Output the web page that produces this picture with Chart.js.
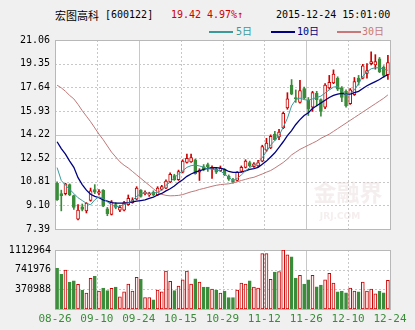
<!DOCTYPE html>
<html>
<head>
<meta charset="utf-8">
<script src="https://cdn.jsdelivr.net/npm/chart.js@4.4.0/dist/chart.umd.min.js"></script>
<style>
body { margin:0; background:#f0f0f0; width:415px; height:330px; overflow:hidden; position:relative;
       font-family:"DejaVu Sans Mono","Noto Sans CJK SC",monospace; }
canvas { position:absolute; left:0; }
#kline { top:0; }
#vol { top:240px; }
.hd { position:absolute; font-size:10px; line-height:12px; white-space:nowrap; }
.cn { font-family:"Noto Sans CJK SC",sans-serif; font-size:11px; }
.red { color:#cc0000; }
.key { position:absolute; height:2px; width:24px; top:31px; }
</style>
</head>
<body>
<div class="hd cn" style="left:55px;top:9px;">宏图高科</div>
<div class="hd" style="left:105px;top:9px;">[600122]</div>
<div class="hd red" style="left:171px;top:9px;">19.42</div>
<div class="hd red" style="left:207px;top:9px;">4.97%↑</div>
<div class="hd" style="left:276px;top:9px;">2015-12-24 15:01:00</div>

<div class="key" style="left:209px;background:#3a9a9a;"></div>
<div class="hd" style="left:236px;top:26px;color:#3a9a9a;">5日</div>
<div class="key" style="left:271px;background:#000080;"></div>
<div class="hd" style="left:297px;top:26px;color:#000080;">10日</div>
<div class="key" style="left:337px;background:#c87878;"></div>
<div class="hd" style="left:362px;top:26px;color:#c87878;">30日</div>

<canvas id="kline" width="415" height="240"></canvas>
<canvas id="vol" width="415" height="90"></canvas>

<script>
'use strict';

// axis labels
let dateTicks = ['08-26','09-10','09-24','10-15','10-29','11-12','11-26','12-10','12-24'];
let priceTicks = [7.39, 9.10, 10.81, 12.52, 14.22, 15.93, 17.64, 19.35, 21.06];
let volTicks = [0, 370988, 741976, 1112964];

// daily prices
let openArr = [10.70,9.95,9.95,10.60,9.80,8.10,9.00,8.70,9.45,10.25,
  10.00,10.20,8.85,8.45,9.15,8.75,8.75,9.15,9.30,9.55,
  10.20,9.95,9.85,10.05,9.85,10.25,10.35,10.80,11.25,10.95,
  11.50,12.20,12.25,12.40,11.50,11.90,12.05,11.75,11.70,11.60,
  11.70,11.20,10.95,10.90,11.55,11.85,12.20,11.90,11.95,12.30,
  13.10,13.25,14.25,14.05,14.70,16.15,17.80,16.90,16.55,17.55,
  16.70,16.20,17.20,16.75,16.20,17.60,17.95,18.30,17.60,17.35,
  16.45,17.10,18.30,18.30,18.65,19.35,19.25,19.70,19.10,18.55];
let closeArr = [9.50,9.80,10.65,9.85,8.95,8.75,8.80,9.25,10.15,10.05,
  10.10,9.05,8.50,9.35,8.95,8.95,9.30,9.60,9.50,10.35,
  9.75,10.05,9.95,9.85,10.35,10.45,10.85,11.35,10.95,11.55,
  12.30,12.50,12.55,11.40,11.65,11.75,11.90,11.85,11.50,11.80,
  11.30,11.00,10.80,11.50,11.85,12.30,11.95,12.10,12.20,13.35,
  13.60,14.10,13.85,14.40,15.75,16.80,17.15,16.80,17.40,16.85,
  16.05,17.25,16.75,15.90,17.80,18.00,18.60,17.50,16.90,16.30,
  17.45,18.05,18.05,19.20,18.85,19.50,19.50,18.75,18.50,19.42];
let highArr = [10.80,10.20,10.70,10.65,9.85,9.15,9.20,9.30,10.35,10.60,
  10.25,10.25,8.95,9.45,9.30,9.10,9.40,9.85,9.65,10.45,
  10.25,10.15,10.05,10.15,10.45,10.55,10.95,11.45,11.35,11.65,
  12.40,12.80,12.80,12.45,11.75,12.05,12.15,11.95,11.80,11.95,
  11.75,11.30,11.05,11.55,11.95,12.40,12.30,12.20,12.35,13.45,
  13.95,14.20,14.45,14.60,15.85,17.25,18.20,17.45,18.15,17.65,
  16.90,17.35,17.35,16.80,17.90,18.50,18.90,18.40,17.70,17.45,
  17.55,18.35,18.50,19.30,19.35,20.20,20.00,19.80,19.20,19.95];
let lowArr = [9.45,8.70,9.85,9.80,8.80,8.05,8.70,8.55,9.40,9.95,
  9.85,9.00,8.35,8.40,8.85,8.65,8.70,9.10,9.25,9.50,
  9.70,9.85,9.75,9.80,9.80,10.20,10.30,10.75,10.90,10.90,
  11.45,12.15,12.20,11.35,10.90,11.60,11.55,11.05,11.40,11.55,
  11.25,10.90,10.70,10.85,11.50,11.80,11.90,11.85,11.90,12.25,
  13.00,13.20,13.80,13.85,14.65,16.05,17.10,16.55,16.50,16.80,
  15.60,15.90,16.30,15.55,16.10,17.50,17.90,17.40,16.60,16.20,
  16.40,17.05,17.80,18.25,18.30,19.25,18.95,18.70,18.35,18.20];

// daily volume
let volArr = [769000,653000,732000,506000,530000,464000,359000,298000,579000,616000,
  340000,396000,346000,390000,414000,230000,322000,469000,340000,598000,
  561000,217000,217000,175000,359000,322000,714000,524000,346000,432000,
  548000,714000,469000,567000,506000,414000,414000,377000,359000,298000,
  340000,217000,217000,359000,487000,469000,530000,414000,396000,1045000,
  1045000,561000,695000,708000,1112964,1021000,984000,585000,635000,469000,
  548000,635000,419000,451000,548000,671000,487000,322000,340000,304000,
  396000,340000,322000,506000,340000,377000,285000,340000,304000,543000];

// moving averages
let ma5Arr = [11.83,10.90,10.55,10.25,9.96,9.65,9.45,9.25,9.14,9.50,
  9.72,9.60,9.35,9.14,9.00,9.05,9.15,9.28,9.45,9.75,
  9.96,9.98,9.98,9.98,10.05,10.20,10.55,10.78,11.10,11.37,
  11.60,11.85,11.97,12.02,11.95,11.85,11.75,11.72,11.65,11.60,
  11.35,11.13,10.90,11.05,11.30,11.60,11.83,12.00,12.20,12.55,
  13.00,13.45,13.80,14.15,14.75,15.40,16.30,16.75,16.86,16.75,
  16.70,16.80,16.90,17.00,17.23,17.45,17.65,17.70,17.35,17.12,
  17.20,17.45,17.90,18.45,18.75,18.98,19.05,19.05,18.95,18.87];
let ma10Arr = [13.70,13.20,12.80,12.30,11.85,11.10,10.60,10.20,9.90,9.75,
  9.65,9.50,9.40,9.30,9.26,9.26,9.26,9.30,9.35,9.40,
  9.45,9.50,9.60,9.70,9.85,9.96,10.15,10.30,10.50,10.75,
  10.95,11.20,11.37,11.50,11.60,11.70,11.78,11.82,11.83,11.80,
  11.70,11.55,11.48,11.48,11.50,11.60,11.70,11.75,11.85,12.07,
  12.30,12.60,12.90,13.30,13.70,14.15,14.50,14.95,15.30,15.60,
  15.80,16.10,16.30,16.50,16.70,16.90,17.05,17.15,17.20,17.15,
  17.15,17.25,17.35,17.55,17.75,17.90,18.05,18.20,18.40,18.55];
let ma30Arr = [17.79,17.60,17.35,17.05,16.80,16.40,15.95,15.55,15.15,14.70,
  14.25,13.85,13.40,12.95,12.60,12.25,12.00,11.80,11.55,11.30,
  11.05,10.80,10.55,10.30,10.05,9.90,9.82,9.79,9.80,9.82,
  9.88,9.98,10.08,10.15,10.25,10.32,10.40,10.48,10.55,10.60,
  10.63,10.66,10.72,10.80,10.90,10.98,11.07,11.13,11.25,11.37,
  11.50,11.62,11.80,12.00,12.20,12.45,12.75,12.95,13.15,13.30,
  13.45,13.60,13.75,13.95,14.10,14.25,14.45,14.65,14.85,15.05,
  15.25,15.45,15.65,15.85,16.05,16.25,16.45,16.65,16.85,17.09];

let upColor = '#cc0000';
let downColor = '#3a8c3a';

let wickData = [], bodyData = [], volData = [];
let ma5Data = [], ma10Data = [], ma30Data = [];
let candleColor = [], bodyFill = [], volFill = [];

for (let i = 0; i < openArr.length; i++) {
  let x = i + 0.5;
  let up = closeArr[i] >= openArr[i];
  wickData.push({x: x, y: [lowArr[i], highArr[i]]});
  bodyData.push({x: x, y: [openArr[i], closeArr[i]]});
  volData.push({x: x, y: volArr[i]});
  ma5Data.push({x: x, y: ma5Arr[i]});
  ma10Data.push({x: x, y: ma10Arr[i]});
  ma30Data.push({x: x, y: ma30Arr[i]});
  candleColor.push(up ? upColor : downColor);
  bodyFill.push(up ? '#ffffff' : downColor);
  volFill.push(up ? '#fff4f4' : downColor);
}

// white panel, dashed grid, solid middle lines and frame
let panelGrid = {
  id: 'panelGrid',
  beforeDatasetsDraw(chart, args, opts) {
    let ctx = chart.ctx;
    let a = chart.chartArea;
    let xs = chart.scales.x, ys = chart.scales.y;
    ctx.save();
    ctx.fillStyle = '#ffffff';
    ctx.fillRect(a.left, a.top, a.right - a.left, a.bottom - a.top);
    ctx.lineWidth = 1;
    ctx.strokeStyle = '#c8c8c8';
    ys.ticks.forEach(t => {
      let y = Math.round(ys.getPixelForValue(t.value)) + 0.5;
      if (y < a.top + 2 || y > a.bottom - 2) return;
      ctx.setLineDash(opts.solidY.includes(t.value) ? [] : [2, 2]);
      ctx.beginPath(); ctx.moveTo(a.left, y); ctx.lineTo(a.right, y); ctx.stroke();
    });
    xs.ticks.forEach(t => {
      let x = Math.round(xs.getPixelForValue(t.value)) + 0.5;
      if (x < a.left + 2 || x > a.right - 2) return;
      ctx.setLineDash(opts.solidX.includes(t.value) ? [] : [2, 2]);
      ctx.beginPath(); ctx.moveTo(x, a.top); ctx.lineTo(x, a.bottom); ctx.stroke();
    });
    ctx.setLineDash([]);
    ctx.strokeStyle = '#b8b8b8';
    ctx.strokeRect(Math.round(a.left) + 0.5, Math.round(a.top) + 0.5,
      Math.round(a.right - a.left), Math.round(a.bottom - a.top));
    if (opts.mark) {
      // faint site logo in the lower right corner
      ctx.textAlign = 'center';
      ctx.fillStyle = 'rgba(225,205,205,0.35)';
      ctx.font = 'bold 23px "Noto Sans CJK SC"';
      ctx.fillText('金融界', a.right - 42, a.bottom - 28);
      ctx.font = 'bold 9px "DejaVu Sans"';
      ctx.fillText('JRJ.COM', a.right - 50, a.bottom - 10);
    }
    ctx.restore();
  }
};

let xTicks = dateTicks.map((d, i) => ({value: i * 10}));

let kline = new Chart(document.getElementById('kline'), {
  type: 'bar',
  data: {
    datasets: [{
      type: 'line', data: ma5Data, borderColor: '#3a9a9a', borderWidth: 1,
      pointRadius: 0, order: 0
    }, {
      type: 'line', data: ma10Data, borderColor: '#000080', borderWidth: 1.3,
      pointRadius: 0, order: 0
    }, {
      type: 'line', data: ma30Data, borderColor: '#c07878', borderWidth: 1,
      pointRadius: 0, order: 0
    }, {
      data: bodyData, backgroundColor: bodyFill, borderColor: candleColor, borderWidth: 1,
      borderSkipped: false, barThickness: 3, minBarLength: 1, grouped: false, order: 1
    }, {
      data: wickData, backgroundColor: candleColor, borderWidth: 0,
      barThickness: 1, grouped: false, order: 2
    }]
  },
  options: {
    responsive: false,
    devicePixelRatio: 1,
    animation: false,
    layout: {padding: {top: 40, right: 25, bottom: 5, left: 0}},
    plugins: {
      legend: {display: false},
      tooltip: {enabled: false},
      panelGrid: {solidX: [20, 60], solidY: [14.22], mark: true}
    },
    scales: {
      x: {
        type: 'linear', min: 0, max: 80, offset: false,
        afterBuildTicks: s => { s.ticks = xTicks.slice(); },
        afterFit: s => { s.height = 0; },
        ticks: {display: false},
        grid: {display: false, drawTicks: false},
        border: {display: false}
      },
      y: {
        min: 7.39, max: 21.06,
        afterBuildTicks: s => { s.ticks = priceTicks.map(v => ({value: v})); },
        afterFit: s => { s.width = 55; },
        ticks: {
          color: '#000', padding: 5,
          font: {family: 'DejaVu Sans Mono', size: 10},
          callback: v => v.toFixed(2)
        },
        grid: {display: false, drawTicks: false},
        border: {display: false}
      }
    }
  },
  plugins: [panelGrid]
});

let vol = new Chart(document.getElementById('vol'), {
  type: 'bar',
  data: {
    datasets: [{
      data: volData, backgroundColor: volFill, borderColor: candleColor, borderWidth: 1,
      borderSkipped: false, barThickness: 3, grouped: false
    }]
  },
  options: {
    responsive: false,
    devicePixelRatio: 1,
    animation: false,
    layout: {padding: {top: 8, right: 25, bottom: 0, left: 0}},
    plugins: {
      legend: {display: false},
      tooltip: {enabled: false},
      panelGrid: {solidX: [20, 60], solidY: []}
    },
    scales: {
      x: {
        type: 'linear', min: 0, max: 80, offset: false,
        afterBuildTicks: s => { s.ticks = xTicks.slice(); },
        afterFit: s => { s.height = 21; },
        ticks: {
          color: '#3a8c3a', padding: 4, maxRotation: 0, autoSkip: false,
          font: {family: 'DejaVu Sans Mono', size: 11},
          callback: (v, i) => dateTicks[i]
        },
        grid: {display: false, drawTicks: false},
        border: {display: false}
      },
      y: {
        min: 0, max: 1112964,
        afterBuildTicks: s => { s.ticks = volTicks.map(v => ({value: v})); },
        afterFit: s => { s.width = 55; },
        ticks: {
          color: '#000', padding: 4,
          font: {family: 'DejaVu Sans Mono', size: 10},
          callback: v => v === 0 ? '' : String(v)
        },
        grid: {display: false, drawTicks: false},
        border: {display: false}
      }
    }
  },
  plugins: [panelGrid]
});
</script>
</body>
</html>
